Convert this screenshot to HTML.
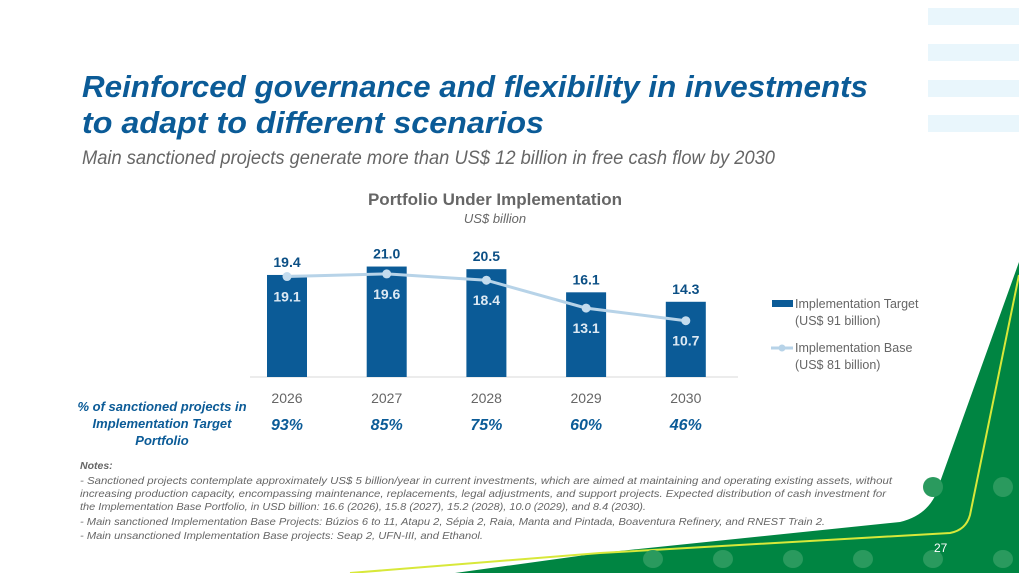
<!DOCTYPE html>
<html><head><meta charset="utf-8"><style>
html,body{margin:0;padding:0;background:#fff;}
svg{display:block;font-family:"Liberation Sans",sans-serif;}
</style></head><body>
<svg id="s" width="1019" height="573" viewBox="0 0 1019 573">
  <g fill="#e9f6fc">
    <rect x="928" y="8" width="91" height="17"/><rect x="928" y="44" width="91" height="17"/>
    <rect x="928" y="80" width="91" height="17"/><rect x="928" y="115" width="91" height="17"/>
  </g>
  <path d="M455 573 L600 553 L900 522 Q925 516 935 496 L1019 262 L1019 573 Z" fill="#008542"/>
  <path d="M350 573 L600 553 L950 533 Q966 530 970 515 L1019 275" fill="none" stroke="#d8e83a" stroke-width="2"/>
  <g fill="#2a9a5e">
    <ellipse cx="933" cy="487" rx="10" ry="10"/><ellipse cx="1003" cy="487" rx="10" ry="10"/>
    <ellipse cx="653" cy="559" rx="10" ry="9"/><ellipse cx="723" cy="559" rx="10" ry="9"/><ellipse cx="793" cy="559" rx="10" ry="9"/>
    <ellipse cx="863" cy="559" rx="10" ry="9"/><ellipse cx="933" cy="559" rx="10" ry="9"/><ellipse cx="1003" cy="559" rx="10" ry="9"/>
  </g>
  <text x="82" y="97" font-size="31" font-weight="bold" font-style="italic" fill="#0b5b97" textLength="786" lengthAdjust="spacingAndGlyphs">Reinforced governance and flexibility in investments</text>
  <text x="82" y="133" font-size="31" font-weight="bold" font-style="italic" fill="#0b5b97" textLength="462" lengthAdjust="spacingAndGlyphs">to adapt to different scenarios</text>
  <text x="82" y="164" font-size="19" font-style="italic" fill="#666" textLength="693" lengthAdjust="spacingAndGlyphs">Main sanctioned projects generate more than US$ 12 billion in free cash flow by 2030</text>
  <text x="495" y="205" font-size="17" font-weight="bold" fill="#666" text-anchor="middle">Portfolio Under Implementation</text>
  <text x="495" y="223" font-size="13" font-style="italic" fill="#666" text-anchor="middle">US$ billion</text>
  <line x1="250" y1="377" x2="738" y2="377" stroke="#e6e6e6" stroke-width="1.5"/>
  <g id="chart"></g>
  <text font-size="13" font-weight="bold" font-style="italic" fill="#0b5b97" text-anchor="middle"><tspan x="162" y="411">% of sanctioned projects in</tspan><tspan x="162" y="428">Implementation Target</tspan><tspan x="162" y="445">Portfolio</tspan></text>
  <g>
    <rect x="772" y="300" width="21" height="7" fill="#0b5b97"/>
    <text x="795" y="308" font-size="12.5" fill="#666">Implementation Target</text>
    <text x="795" y="325" font-size="12.5" fill="#666">(US$ 91 billion)</text>
    <line x1="771" y1="348" x2="793" y2="348" stroke="#b7d3e8" stroke-width="3"/>
    <circle cx="782" cy="348" r="3.5" fill="#b7d3e8"/>
    <text x="795" y="352" font-size="12.5" fill="#666">Implementation Base</text>
    <text x="795" y="369" font-size="12.5" fill="#666">(US$ 81 billion)</text>
  </g>
  <g font-size="10.5" font-style="italic" fill="#666">
    <text x="80" y="469" font-weight="bold">Notes:</text>
    <text x="80" y="484" textLength="812" lengthAdjust="spacingAndGlyphs">- Sanctioned projects contemplate approximately US$ 5 billion/year in current investments, which are aimed at maintaining and operating existing assets, without</text>
    <text x="80" y="497" textLength="806" lengthAdjust="spacingAndGlyphs">increasing production capacity, encompassing maintenance, replacements, legal adjustments, and support projects. Expected distribution of cash investment for</text>
    <text x="80" y="510" textLength="566" lengthAdjust="spacingAndGlyphs">the Implementation Base Portfolio, in USD billion: 16.6 (2026), 15.8 (2027), 15.2 (2028), 10.0 (2029), and 8.4 (2030).</text>
    <text x="80" y="525" textLength="745" lengthAdjust="spacingAndGlyphs">- Main sanctioned Implementation Base Projects: Búzios 6 to 11, Atapu 2, Sépia 2, Raia, Manta and Pintada, Boaventura Refinery, and RNEST Train 2.</text>
    <text x="80" y="539" textLength="403" lengthAdjust="spacingAndGlyphs">- Main unsanctioned Implementation Base projects: Seap 2, UFN-III, and Ethanol.</text>
  </g>
  <text x="934" y="552" font-size="12" fill="#fff">27</text>
</svg>
<script>
const years = ["2026","2027","2028","2029","2030"];
const targetValues = [19.4, 21.0, 20.5, 16.1, 14.3];
const baseValues = [19.1, 19.6, 18.4, 13.1, 10.7];
const sanctionedPct = ["93%","85%","75%","60%","46%"];
const NS="http://www.w3.org/2000/svg";
const g=document.getElementById('chart');
const x0=287, step=99.7, base=377, k=5.26, bw=40;
const xs=i=>x0+i*step, ys=v=>base-v*k;
function mk(t,a,txt){const e=document.createElementNS(NS,t);for(const n in a)e.setAttribute(n,a[n]);if(txt!=null)e.textContent=txt;g.appendChild(e);return e;}
years.forEach((y,i)=>{
  const b=mk('rect',{x:xs(i)-bw/2,y:ys(targetValues[i]),width:bw,height:targetValues[i]*k,fill:'#0b5b97'});
  
  
  const t=mk('text',{x:xs(i),y:ys(targetValues[i])-8,'font-size':14,'font-weight':'bold',fill:'#0b4f85','text-anchor':'middle'},targetValues[i].toFixed(1));
  
  
  const yl=mk('text',{x:xs(i),y:403,'font-size':14,fill:'#666','text-anchor':'middle'},y);
  
  
  const p=mk('text',{x:xs(i),y:430,'font-size':16,'font-weight':'bold','font-style':'italic',fill:'#0b5b97','text-anchor':'middle'},sanctionedPct[i]);
  
  
});
let d='';baseValues.forEach((v,i)=>{d+=(i?' L':'M')+xs(i)+' '+ys(v);});
const ln=mk('path',{d:d,fill:'none',stroke:'#b7d3e8','stroke-width':3});


years.forEach((y,i)=>{
  const c=mk('circle',{cx:xs(i),cy:ys(baseValues[i]),r:4.5,fill:'#c4dcee'});
  
  
  const t=mk('text',{x:xs(i),y:ys(baseValues[i])+25,'font-size':14,'font-weight':'bold',fill:'#dde9f3','text-anchor':'middle'},baseValues[i].toFixed(1));
  
  
});
</script>
</body></html>
